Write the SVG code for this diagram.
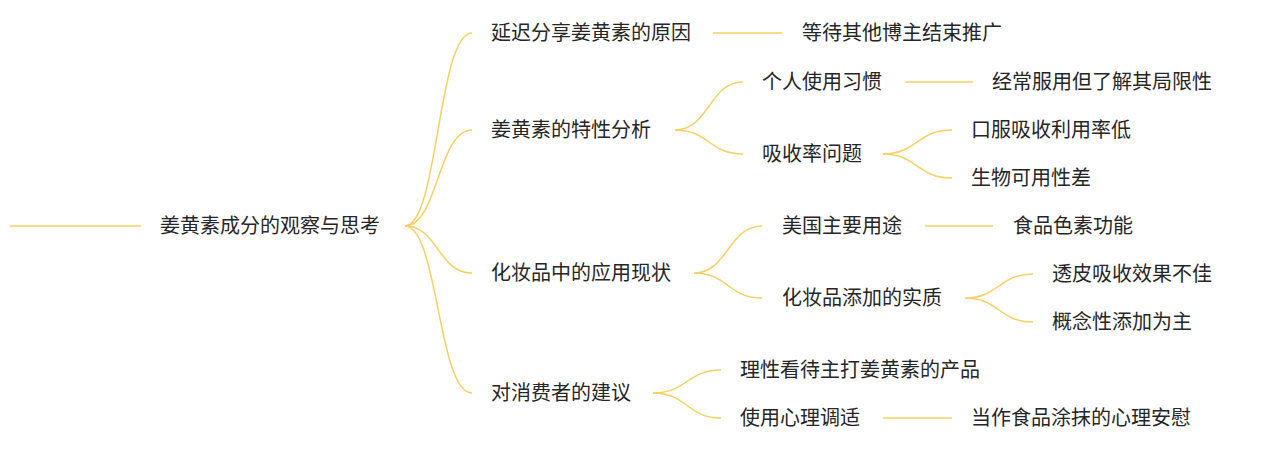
<svg xmlns="http://www.w3.org/2000/svg" width="1261" height="452" viewBox="0 0 1261 452">
<style>
text{font-family:"Noto Sans CJK SC","Noto Sans",sans-serif;font-size:20px;fill:#262626}
.c{fill:none;stroke:#F7D063;stroke-width:1.5}
</style>
<rect width="1261" height="452" fill="#ffffff"/>
<g id="connectors">
<path class="c" d="M10 226H141"/>
<path class="c" d="M405 226C438 226 438 33 472 33"/>
<path class="c" d="M405 226C438 226 438 130 472 130"/>
<path class="c" d="M405 226C438 226 438 273 472 273"/>
<path class="c" d="M405 226C438 226 438 393 472 393"/>
<path class="c" d="M713 33H782"/>
<path class="c" d="M675 130C709 130 709 82 743 82"/>
<path class="c" d="M675 130C709 130 709 154 743 154"/>
<path class="c" d="M905 82H973"/>
<path class="c" d="M883 154C917 154 917 130 952 130"/>
<path class="c" d="M883 154C917 154 917 178 952 178"/>
<path class="c" d="M694 273C728 273 728 226 762 226"/>
<path class="c" d="M694 273C728 273 728 298 762 298"/>
<path class="c" d="M925 226H993"/>
<path class="c" d="M965 298C999 298 999 274 1033 274"/>
<path class="c" d="M965 298C999 298 999 322 1033 322"/>
<path class="c" d="M653 393C687 393 687 370 721 370"/>
<path class="c" d="M653 393C687 393 687 418 721 418"/>
<path class="c" d="M883 418H952"/>
</g>
<g id="root"><text x="160" y="233">姜黄素成分的观察与思考</text></g>
<g id="n1"><text x="491" y="40">延迟分享姜黄素的原因</text></g>
<g id="n1a"><text x="802" y="40">等待其他博主结束推广</text></g>
<g id="n2"><text x="491" y="137">姜黄素的特性分析</text></g>
<g id="n2a"><text x="762" y="89">个人使用习惯</text></g>
<g id="n2a1"><text x="992" y="89">经常服用但了解其局限性</text></g>
<g id="n2b"><text x="762" y="161">吸收率问题</text></g>
<g id="n2b1"><text x="971" y="137">口服吸收利用率低</text></g>
<g id="n2b2"><text x="971" y="185">生物可用性差</text></g>
<g id="n3"><text x="491" y="280">化妆品中的应用现状</text></g>
<g id="n3a"><text x="782" y="233">美国主要用途</text></g>
<g id="n3a1"><text x="1013" y="233">食品色素功能</text></g>
<g id="n3b"><text x="782" y="305">化妆品添加的实质</text></g>
<g id="n3b1"><text x="1052" y="281">透皮吸收效果不佳</text></g>
<g id="n3b2"><text x="1052" y="329">概念性添加为主</text></g>
<g id="n4"><text x="491" y="400">对消费者的建议</text></g>
<g id="n4a"><text x="740" y="377">理性看待主打姜黄素的产品</text></g>
<g id="n4b"><text x="740" y="425">使用心理调适</text></g>
<g id="n4b1"><text x="971" y="425">当作食品涂抹的心理安慰</text></g>
</svg>
